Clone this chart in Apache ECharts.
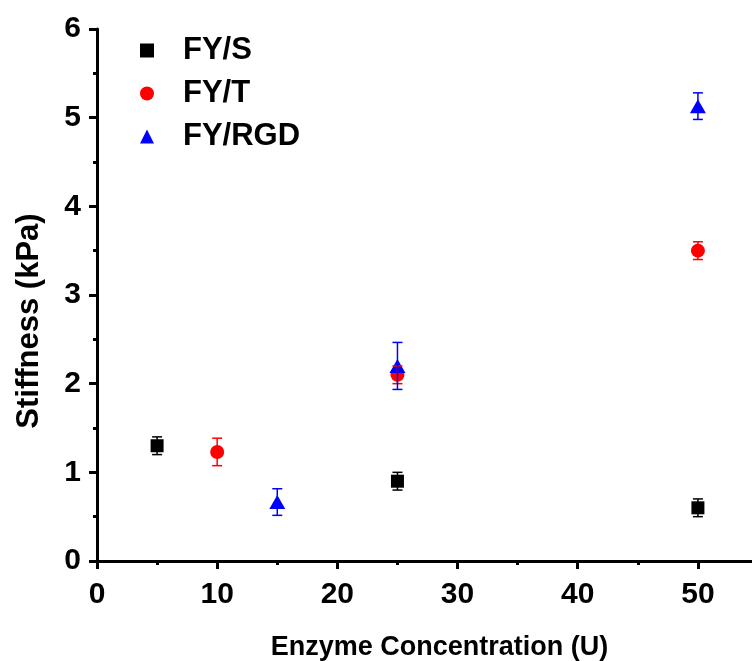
<!DOCTYPE html>
<html>
<head>
<meta charset="utf-8">
<script src="https://cdn.jsdelivr.net/npm/echarts@6/dist/echarts.min.js"></script>
<style>
  html, body { margin: 0; padding: 0; background: #fff; }
  #chart { width: 752px; height: 661px; }
</style>
</head>
<body>
<div id="chart"></div>
<script>
// Stiffness vs. enzyme concentration, mean ± error for each hydrogel type
const seriesNames = ['FY/S', 'FY/T', 'FY/RGD'];

const concS = [5, 25, 50];
const stiffS = [1.3, 0.9, 0.6];
const errS = [0.1, 0.1, 0.1];

const concT = [10, 25, 50];
const stiffT = [1.23, 2.1, 3.5];
const errT = [0.155, 0.1, 0.1];

const concRGD = [15, 25, 50];
const stiffRGD = [0.665, 2.2, 5.13];
const errRGD = [0.15, 0.265, 0.15];

const xMajorTicks = [0, 10, 20, 30, 40, 50];
const xMinorTicks = [5, 15, 25, 35, 45];

const colors = ['#000000', '#ff0000', '#0000ff'];
const symbols = ['rect', 'circle', 'triangle'];
const symbolSizes = [13, 14, [16, 14]];

const FONT = '"Liberation Sans", Arial, Helvetica, sans-serif';

const groups = [
  { x: concS, y: stiffS, e: errS },
  { x: concT, y: stiffT, e: errT },
  { x: concRGD, y: stiffRGD, e: errRGD }
];

function pointsOf(g) {
  return g.x.map((v, i) => [v, g.y[i]]);
}
function errorRowsOf(g) {
  return g.x.map((v, i) => [v, g.y[i], g.e[i]]);
}

// Vertical error bar with short caps, drawn in data coordinates
function errorBarRenderer(color) {
  return function (params, api) {
    const x = api.value(0), y = api.value(1), e = api.value(2);
    const top = api.coord([x, y + e]);
    const bot = api.coord([x, y - e]);
    const hw = 5;
    const style = { stroke: color, lineWidth: 1.5 };
    return {
      type: 'group',
      children: [
        { type: 'line', shape: { x1: top[0], y1: top[1], x2: bot[0], y2: bot[1] }, style },
        { type: 'line', shape: { x1: top[0] - hw, y1: top[1], x2: top[0] + hw, y2: top[1] }, style },
        { type: 'line', shape: { x1: bot[0] - hw, y1: bot[1], x2: bot[0] + hw, y2: bot[1] }, style }
      ]
    };
  };
}

const scatterSeries = groups.map((g, i) => ({
  name: seriesNames[i],
  type: 'scatter',
  xAxisIndex: 0,
  data: pointsOf(g),
  symbol: symbols[i],
  symbolSize: symbolSizes[i],
  itemStyle: { color: colors[i], opacity: 1 },
  z: 3 + i
}));

const errorSeries = groups.map((g, i) => ({
  name: seriesNames[i] + ' error',
  type: 'custom',
  xAxisIndex: 0,
  data: errorRowsOf(g),
  renderItem: errorBarRenderer(colors[i]),
  z: 10
}));

const axisLine = { show: true, lineStyle: { color: '#000', width: 3 } };

const option = {
  backgroundColor: '#fff',
  animation: false,
  grid: { left: 97, right: 0, top: 29, bottom: 100, containLabel: false, outerBoundsMode: 'none' },
  legend: {
    data: seriesNames.map((n, i) => ({ name: n, icon: symbols[i] })),
    orient: 'vertical',
    left: 140,
    top: 35,
    padding: 0,
    itemWidth: 14,
    itemHeight: 14,
    itemGap: 12,
    selectedMode: false,
    textStyle: {
      fontFamily: FONT,
      fontWeight: 'bold',
      fontSize: 31,
      color: '#000',
      lineHeight: 30,
      padding: [0, 0, 0, 24]
    }
  },
  xAxis: [
    {
      type: 'value',
      min: 0,
      max: 54.5,
      interval: 10,
      name: 'Enzyme Concentration (U)',
      nameLocation: 'middle',
      nameGap: 73,
      nameTextStyle: {
        fontFamily: FONT, fontWeight: 'bold', fontSize: 27, color: '#000',
        padding: [0, 0, 0, 30]
      },
      axisLine,
      axisTick: { show: true, customValues: xMajorTicks, length: 8, lineStyle: { color: '#000', width: 3 } },
      axisLabel: {
        customValues: xMajorTicks,
        margin: 19,
        fontFamily: FONT, fontWeight: 'bold', fontSize: 30, color: '#000'
      },
      splitLine: { show: false }
    },
    {
      type: 'value',
      min: 0,
      max: 54.5,
      position: 'bottom',
      axisLine: { show: false },
      axisTick: { show: true, customValues: xMinorTicks, length: 4, lineStyle: { color: '#000', width: 3 } },
      axisLabel: { show: false },
      splitLine: { show: false }
    }
  ],
  yAxis: {
    type: 'value',
    min: 0,
    max: 6,
    interval: 1,
    name: 'Stiffness (kPa)',
    nameLocation: 'middle',
    nameGap: 52,
    nameTextStyle: {
      fontFamily: FONT, fontWeight: 'bold', fontSize: 31, color: '#000',
      padding: [0, 52, 0, 0]
    },
    axisLine,
    axisTick: { show: true, length: 8, lineStyle: { color: '#000', width: 3 } },
    minorTick: { show: true, splitNumber: 2, length: 4, lineStyle: { color: '#000', width: 3 } },
    axisLabel: {
      margin: 16,
      fontFamily: FONT, fontWeight: 'bold', fontSize: 30, color: '#000'
    },
    splitLine: { show: false },
    minorSplitLine: { show: false }
  },
  series: scatterSeries.concat(errorSeries)
};

const chart = echarts.init(document.getElementById('chart'), null, { renderer: 'canvas' });
chart.setOption(option);
</script>
</body>
</html>
